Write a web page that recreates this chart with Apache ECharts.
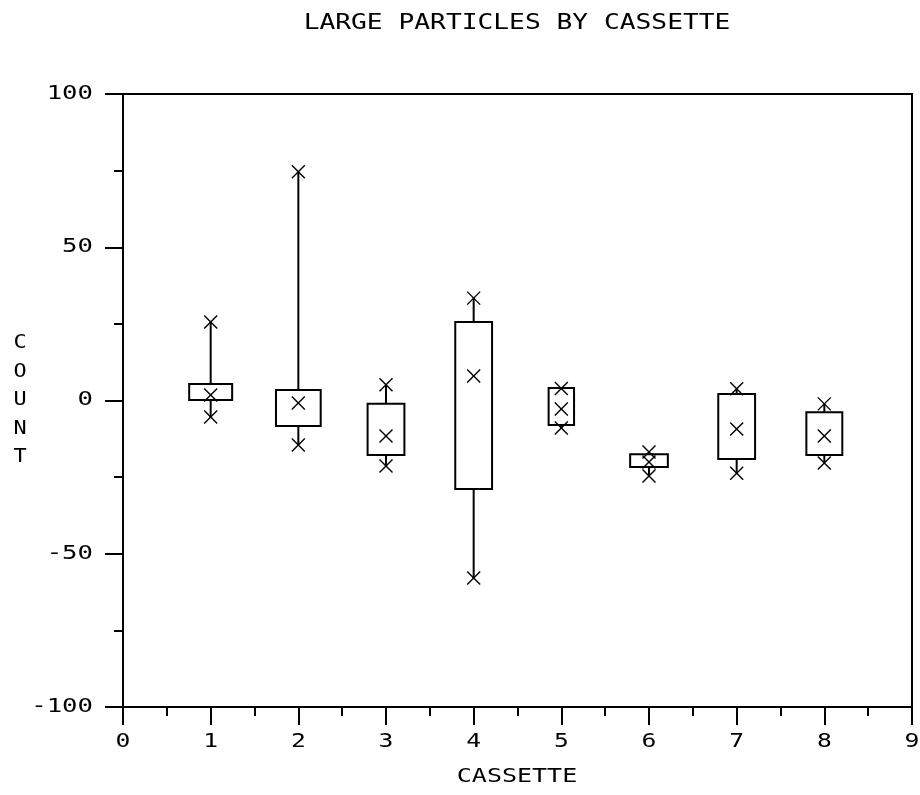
<!DOCTYPE html>
<html>
<head>
<meta charset="utf-8">
<script src="https://cdn.jsdelivr.net/npm/echarts@6/dist/echarts.min.js"></script>
<style>
  html, body { margin: 0; padding: 0; background: #fff; }
  #chart { width: 920px; height: 795px; }
</style>
</head>
<body>
<div id="chart"></div>
<script>
// Chart texts
const chartTitle = 'LARGE PARTICLES BY CASSETTE';
const xAxisName = 'CASSETTE';
const yAxisName = 'COUNT';

// Per-cassette summary values (counts)
const cassettes      = [1, 2, 3, 4, 5, 6, 7, 8];
const upperMark      = [25.6, 74.6, 5.1, 33.4, 3.9, -16.8, 3.8, -1.1];
const upperQuartile  = [5.4, 3.4, -1.1, 25.6, 4.1, -17.5, 2.1, -3.8];
const middleMark     = [1.8, -0.8, -11.6, 8.0, -2.8, -20.1, -9.3, -11.6];
const lowerQuartile  = [0.2, -8.3, -17.8, -28.9, -8.0, -21.7, -19.1, -17.8];
const lowerMark      = [-5.4, -14.5, -21.4, -57.9, -9.0, -24.6, -23.7, -20.4];

// Axis tick values and their labels
const xTickValues = [0, 1, 2, 3, 4, 5, 6, 7, 8, 9];
const xTickLabels = ['0', '1', '2', '3', '4', '5', '6', '7', '8', '9'];
const yTickValues = [-100, -50, 0, 50, 100];
const yTickLabels = ['-100', '-50', '0', '50', '100'];

// Drawing style
const INK = '#000';
const MONO = '"DejaVu Sans Mono", "Liberation Mono", monospace';
const boxWidth = [0.49, 0.51, 0.42, 0.42, 0.29, 0.43, 0.42, 0.41]; // box widths in axis units
const CROSS_HALF = 6.5;

const chart = echarts.init(document.getElementById('chart'), null, { renderer: 'canvas' });

const boxData = cassettes.map((c, i) => [
  c, lowerMark[i], lowerQuartile[i], middleMark[i], upperQuartile[i], upperMark[i]
]);

function cross(p) {
  const s = CROSS_HALF;
  const st = { stroke: INK, lineWidth: 1.4 };
  return [
    { type: 'line', shape: { x1: p[0] - s, y1: p[1] - s, x2: p[0] + s, y2: p[1] + s }, style: st },
    { type: 'line', shape: { x1: p[0] - s, y1: p[1] + s, x2: p[0] + s, y2: p[1] - s }, style: st }
  ];
}

function renderBox(params, api) {
  const i = params.dataIndex;
  const x = api.value(0);
  const pLow = api.coord([x, api.value(1)]);
  const pQ1  = api.coord([x, api.value(2)]);
  const pMid = api.coord([x, api.value(3)]);
  const pQ3  = api.coord([x, api.value(4)]);
  const pUp  = api.coord([x, api.value(5)]);
  const w = api.size([boxWidth[i], 0])[0];
  const lineSt = { stroke: INK, lineWidth: 2 };
  const children = [
    { type: 'line', shape: { x1: pQ3[0], y1: pQ3[1], x2: pUp[0], y2: pUp[1] }, style: lineSt },
    { type: 'line', shape: { x1: pQ1[0], y1: pQ1[1], x2: pLow[0], y2: pLow[1] }, style: lineSt },
    { type: 'rect', shape: { x: pQ3[0] - w / 2, y: pQ3[1], width: w, height: pQ1[1] - pQ3[1] },
      style: { fill: 'none', stroke: INK, lineWidth: 2 } }
  ].concat(cross(pUp), cross(pMid), cross(pLow));
  return { type: 'group', children };
}

const axisCommon = {
  type: 'value',
  axisLine: { show: true, onZero: false, lineStyle: { color: INK, width: 2 } },
  axisTick: { show: true, inside: false, length: 18, lineStyle: { color: INK, width: 2 } },
  minorTick: { show: true, splitNumber: 2, length: 9, lineStyle: { color: INK, width: 2 } },
  axisLabel: { show: false },
  splitLine: { show: false },
  minorSplitLine: { show: false }
};

chart.setOption({
  animation: false,
  backgroundColor: '#fff',
  grid: {
    left: 123, right: 8, top: 94, bottom: 88,
    show: true, borderColor: INK, borderWidth: 2, backgroundColor: 'transparent'
  },
  xAxis: Object.assign({}, axisCommon, { min: 0, max: 9, interval: 1 }),
  yAxis: Object.assign({}, axisCommon, { min: -100, max: 100, interval: 50 }),
  series: [{
    type: 'custom',
    renderItem: renderBox,
    encode: { x: 0, y: [1, 2, 3, 4, 5] },
    data: boxData,
    clip: false,
    silent: true
  }]
});

// Text elements placed from the axes' own pixel scale
const axisX = chart.convertToPixel({ xAxisIndex: 0 }, 0);
const axisY = chart.convertToPixel({ yAxisIndex: 0 }, -100);

function textEl(x, y, text, size, scaleX, align, extra) {
  return {
    type: 'text', x: x, y: y, scaleX: scaleX, silent: true,
    style: Object.assign({
      text: text, font: size + 'px ' + MONO, fill: INK,
      align: align, textAlign: align, verticalAlign: 'middle', textVerticalAlign: 'middle'
    }, extra || {})
  };
}

const graphics = [];
xTickValues.forEach((v, i) => {
  graphics.push(textEl(chart.convertToPixel({ xAxisIndex: 0 }, v), axisY + 35, xTickLabels[i], 19, 1.3, 'center'));
});
yTickValues.forEach((v, i) => {
  graphics.push(textEl(axisX - 30, chart.convertToPixel({ yAxisIndex: 0 }, v), yTickLabels[i], 19, 1.35, 'right'));
});
graphics.push(textEl(517, 24, chartTitle, 21, 1.25, 'center'));
graphics.push(textEl(517, 777, xAxisName, 20, 1.25, 'center'));
graphics.push(textEl(20, chart.convertToPixel({ yAxisIndex: 0 }, 0), yAxisName.split('').join('\n'), 19, 1.15, 'center',
  { lineHeight: 28.5 }));

chart.setOption({ graphic: graphics });
</script>
</body>
</html>
